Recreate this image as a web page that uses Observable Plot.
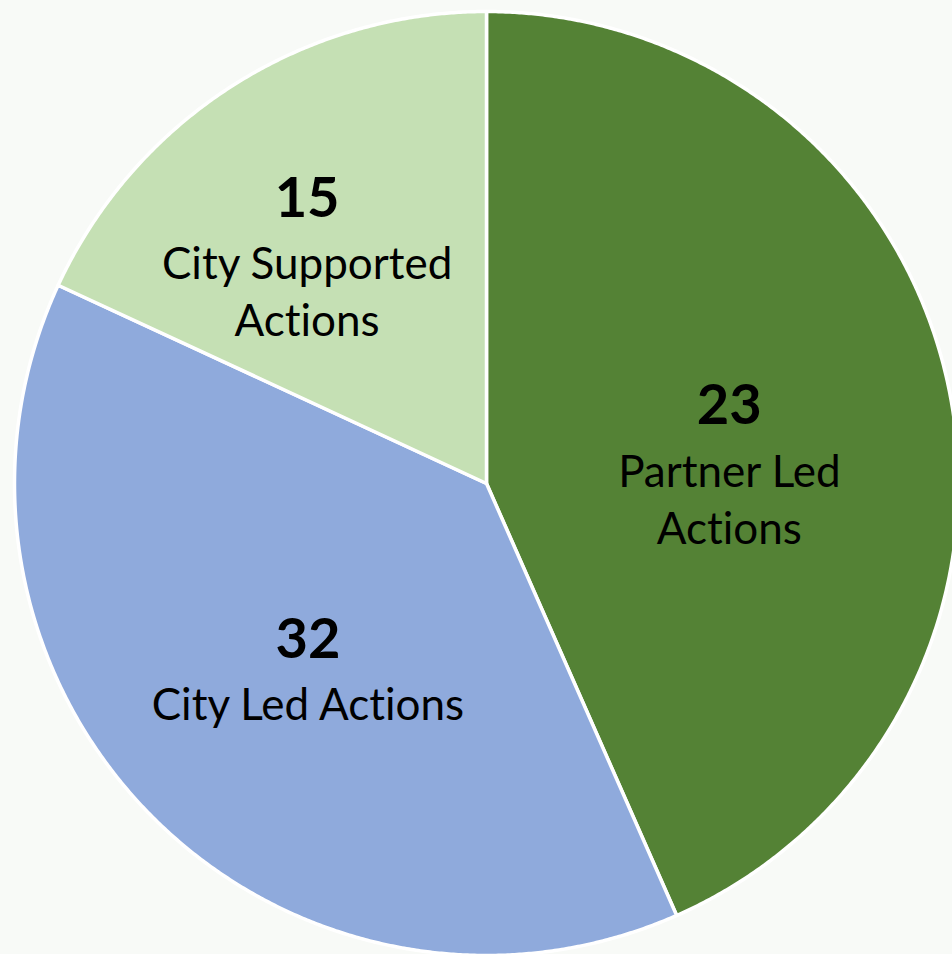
<!DOCTYPE html>
<html>
<head>
<meta charset="utf-8">
<script src="https://cdn.jsdelivr.net/npm/d3@7"></script>
<script src="https://cdn.jsdelivr.net/npm/@observablehq/plot@0.6"></script>
<style>
  html, body { margin: 0; padding: 0; background: #f8faf7; overflow: hidden; }
  #chart { width: 952px; height: 954px; overflow: hidden; }
  #chart svg { overflow: hidden; }
  #chart svg text { font-variant-ligatures: none; font-feature-settings: "liga" 0, "clig" 0; }
</style>
</head>
<body>
<div id="chart"></div>
<script>
// ---- data ----
const categories = ["Partner Led Actions", "City Led Actions", "City Supported Actions"];
const counts = [23, 32, 15];                 // printed labels
const shares = [43.4, 38.5, 18.1];
const labelLines = [["Partner Led", "Actions"], ["City Led Actions"], ["City Supported", "Actions"]];
const colors = ["#548235", "#8faadc", "#c5e0b4"];

// ---- layout (label placement relative to slice mid-angle, radius fraction) ----
const labelAngleOffset = [9.3, -6.75, -6.8];
const labelRadius = [0.515, 0.604, 0.599];

// ---- build slices with d3.pie ----
const pie = d3.pie().sort(null).value(d => d.share)(
  categories.map((c, i) => ({category: c, share: shares[i], count: counts[i]}))
);

const slicePts = [];
pie.forEach(p => {
  const steps = Math.max(2, Math.ceil((p.endAngle - p.startAngle) / 0.005));
  slicePts.push({category: p.data.category, x: 0, y: 0});
  for (let k = 0; k <= steps; k++) {
    const a = p.startAngle + (p.endAngle - p.startAngle) * k / steps;
    slicePts.push({category: p.data.category, x: Math.sin(a), y: Math.cos(a)});
  }
});

const labels = pie.map((p, i) => {
  const mid = (p.startAngle + p.endAngle) / 2 + labelAngleOffset[i] * Math.PI / 180;
  const r = labelRadius[i];
  return {
    category: p.data.category,
    count: String(p.data.count),
    line1: labelLines[i][0],
    line2: labelLines[i][1] || "",
    x: Math.sin(mid) * r,
    y: Math.cos(mid) * r
  };
});

const cx = 486, cy = 483, R = 472;
const font = "Lato, 'Open Sans', sans-serif";

const chart = Plot.plot({
  width: 952,
  height: 954,
  margin: 0,
  style: {background: "#f8faf7", fontFamily: font},
  x: {domain: [-1, 1], range: [cx - R, cx + R], axis: null},
  y: {domain: [-1, 1], range: [cy + R, cy - R], axis: null},
  color: {domain: categories, range: colors},
  marks: [
    Plot.line(slicePts, {
      x: "x", y: "y", z: "category", fill: "category",
      stroke: "white", strokeWidth: 3.5, strokeLinejoin: "round",
      curve: "linear-closed"
    }),
    Plot.text(labels, {
      x: "x", y: "y", text: "count", dy: -66,
      fontSize: 56, fontWeight: "bold", fill: "black", fontFamily: font
    }),
    Plot.text(labels, {
      x: "x", y: "y", text: "line1",
      fontSize: 44, fill: "black", fontFamily: font
    }),
    Plot.text(labels, {
      x: "x", y: "y", text: "line2", dy: 57,
      fontSize: 44, fill: "black", fontFamily: font
    })
  ]
});

document.getElementById("chart").appendChild(chart);
</script>
</body>
</html>
